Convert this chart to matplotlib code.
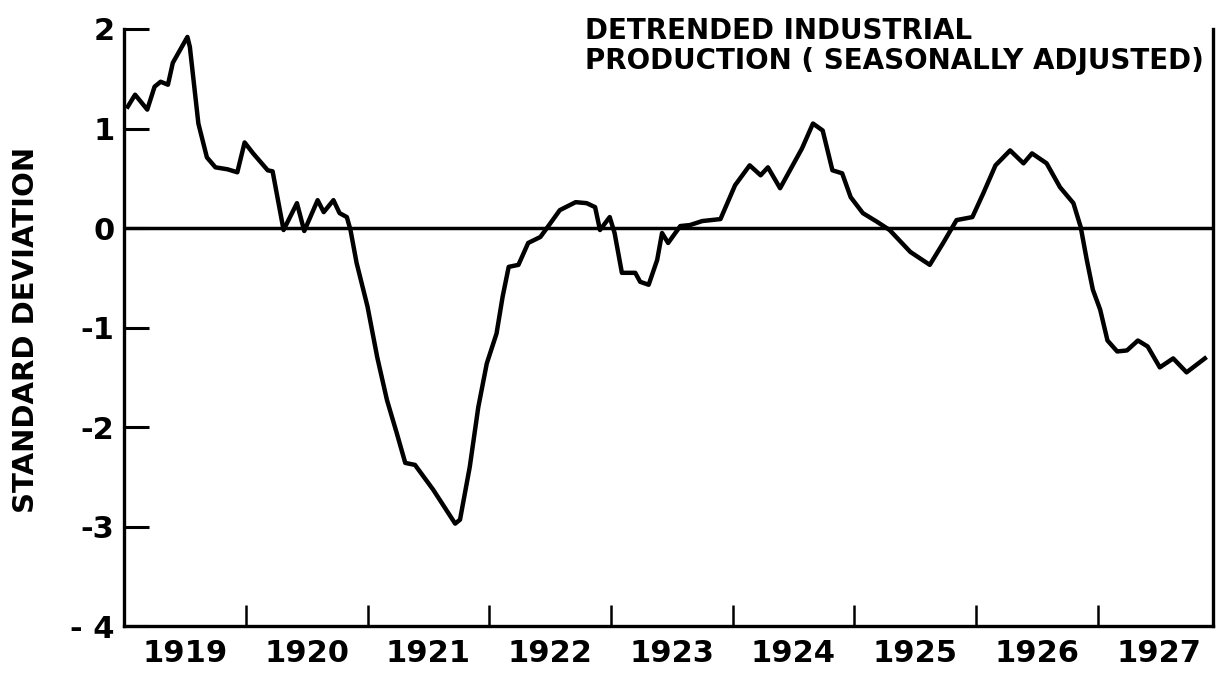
import matplotlib
matplotlib.use("Agg")
import matplotlib.pyplot as plt
import numpy as np

# detrended industrial production (decimal year, std. deviations)
anos = [1919.03, 1919.09, 1919.19, 1919.25, 1919.30, 1919.36, 1919.40, 1919.52, 1919.54,
        1919.61, 1919.68, 1919.75, 1919.85, 1919.93, 1919.99, 1920.06, 1920.18, 1920.22,
        1920.31, 1920.42, 1920.48, 1920.59, 1920.64, 1920.72, 1920.77, 1920.83, 1920.86,
        1920.91, 1921.00, 1921.08, 1921.16, 1921.24, 1921.31, 1921.39, 1921.54, 1921.72,
        1921.76, 1921.84, 1921.91, 1921.98, 1922.06, 1922.11, 1922.16, 1922.24, 1922.32,
        1922.42, 1922.48, 1922.58, 1922.71, 1922.80, 1922.87, 1922.91, 1922.99, 1923.03,
        1923.09, 1923.20, 1923.24, 1923.31, 1923.38, 1923.42, 1923.47, 1923.57, 1923.65,
        1923.75, 1923.90, 1924.02, 1924.14, 1924.23, 1924.29, 1924.39, 1924.57, 1924.66,
        1924.74, 1924.82, 1924.90, 1924.97, 1925.07, 1925.19, 1925.29, 1925.46, 1925.62,
        1925.73, 1925.84, 1925.97, 1926.06, 1926.16, 1926.28, 1926.39, 1926.46, 1926.58,
        1926.69, 1926.80, 1926.86, 1926.91, 1926.96, 1927.02, 1927.08, 1927.16, 1927.24,
        1927.33, 1927.41, 1927.51, 1927.62, 1927.73, 1927.88]
desvio = [1.22, 1.34, 1.19, 1.42, 1.47, 1.44, 1.66, 1.92, 1.82,
          1.05, 0.71, 0.61, 0.59, 0.56, 0.86, 0.75, 0.58, 0.57,
          -0.02, 0.25, -0.03, 0.28, 0.16, 0.28, 0.15, 0.11, -0.02,
          -0.35, -0.79, -1.30, -1.73, -2.06, -2.36, -2.38, -2.63, -2.97,
          -2.93, -2.40, -1.80, -1.36, -1.06, -0.69, -0.39, -0.37, -0.15,
          -0.09, 0.01, 0.18, 0.26, 0.25, 0.21, -0.02, 0.11, -0.05,
          -0.45, -0.45, -0.54, -0.57, -0.32, -0.05, -0.15, 0.02, 0.03,
          0.07, 0.09, 0.43, 0.63, 0.53, 0.61, 0.40, 0.80, 1.05,
          0.98, 0.58, 0.55, 0.31, 0.15, 0.06, -0.02, -0.24, -0.37,
          -0.15, 0.08, 0.11, 0.35, 0.63, 0.78, 0.65, 0.75, 0.65,
          0.41, 0.25, 0.01, -0.32, -0.62, -0.82, -1.13, -1.24, -1.23,
          -1.13, -1.19, -1.40, -1.31, -1.45, -1.31]

rotulos_anos = ['1919', '1920', '1921', '1922', '1923', '1924', '1925', '1926', '1927']
valores_y = [2, 1, 0, -1, -2, -3, -4]
rotulos_y = ['2', '1', '0', '-1', '-2', '-3', '- 4']

figura = plt.figure(figsize=(12.17, 6.74), dpi=100)
ax = figura.add_axes([0.102, 0.071, 0.895, 0.886])

ax.plot(anos, desvio, color='k', lw=3.2, solid_joinstyle='round')
ax.axhline(0, color='k', lw=2.5)

ax.set_xlim(1919, 1927.95)
ax.set_ylim(-4, 2)

# ticks nas divisas dos anos, rotulos no meio de cada ano
inicio = 1919
ax.set_xticks([inicio + i for i in range(1, len(rotulos_anos))])
ax.set_xticklabels([])
ax.set_xticks([inicio + i + 0.5 for i in range(len(rotulos_anos))], minor=True)
ax.set_xticklabels(rotulos_anos, minor=True, fontweight='bold')
ax.tick_params(axis='x', which='major', direction='in', length=15, width=1.8)
ax.tick_params(axis='x', which='minor', length=0, pad=9, labelsize=22)

ax.set_yticks(valores_y)
ax.set_yticklabels(rotulos_y, fontweight='bold')
ax.tick_params(axis='y', direction='in', length=18, width=2.2, pad=7, labelsize=22)

ax.spines['top'].set_visible(False)
for lado in ['left', 'bottom', 'right']:
    ax.spines[lado].set_linewidth(2.4)

figura.text(0.021, 0.51, 'STANDARD DEVIATION', rotation=90, fontsize=21,
            fontweight='bold', ha='center', va='center')
figura.text(0.481, 0.975, 'DETRENDED INDUSTRIAL\nPRODUCTION ( SEASONALLY ADJUSTED)',
            fontsize=20, fontweight='bold', ha='left', va='top', linespacing=1.1)

figura.savefig('out.png', dpi=100)
